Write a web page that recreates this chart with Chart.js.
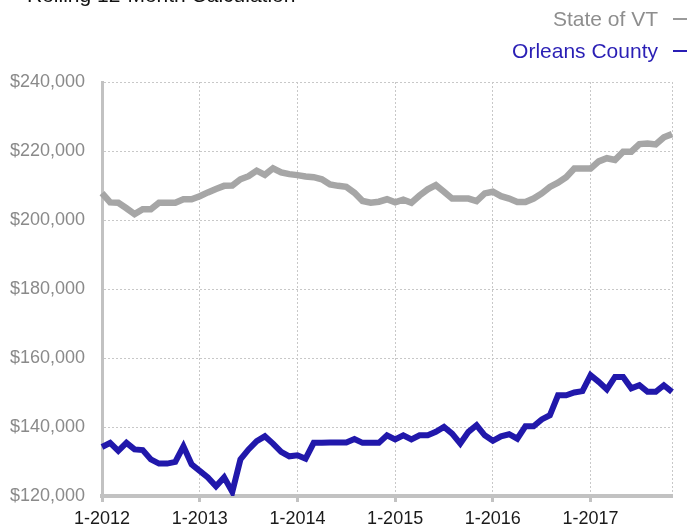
<!DOCTYPE html>
<html>
<head>
<meta charset="utf-8">
<script src="https://cdn.jsdelivr.net/npm/chart.js@4/dist/chart.umd.min.js"></script>
<style>
    html, body { margin: 0; padding: 0; background: #fff; }
    #wrap { position: relative; width: 689px; height: 527px; overflow: hidden; font-family: "Liberation Sans", Arial, sans-serif; }
    #title { position: absolute; left: 27px; top: -16px; font-size: 21px; line-height: 21px; color: #111; white-space: nowrap; }
    .leg { position: absolute; right: 2px; font-size: 21px; line-height: 21px; white-space: nowrap; }
    .leg .dash { display: inline-block; width: 14px; height: 2px; margin-left: 15px; vertical-align: middle; position: relative; top: -1px; }
    #legVT { top: 8px; color: #8e8e8e; }
    #legVT .dash { background: #9a9a9a; }
    #legOC { top: 40px; color: #2a1fb5; }
    #legOC .dash { background: #2a1fb5; }
</style>
</head>
<body>
<div id="wrap">
    <div id="title">Rolling 12-Month Calculation</div>
    <div class="leg" id="legVT">State of VT<span class="dash"></span></div>
    <div class="leg" id="legOC">Orleans County<span class="dash"></span></div>
    <canvas id="medianPriceChart" width="689" height="527"></canvas>
</div>
<script>
const startYear = 2012;
const monthCount = 71; // 1-2012 .. 11-2017

// State of VT, rolling 12-month median
const stateVT = [
    207800, 205100, 205000, 203400, 201700, 203100, 203100, 205000, 205000, 205000, 206000, 206000,
    206900, 208000, 209000, 209900, 210000, 211800, 212700, 214300, 213100, 215000, 213800, 213300,
    213000, 212600, 212400, 211800, 210300, 209900, 209600, 207900, 205500, 205000, 205300, 206000,
    205100, 205900, 205000, 207100, 208900, 210100, 208200, 206200, 206200, 206200, 205500, 207700,
    208200, 206900, 206200, 205200, 205200, 206200, 207700, 209600, 210800, 212400, 214900, 214900,
    214900, 217000, 217900, 217400, 219800, 219800, 222000, 222200, 221900, 224000, 224900
];

// Orleans County, rolling 12-month median
const orleansCounty = [
    134200, 135400, 133100, 135400, 133500, 133300, 130600, 129400, 129400, 129900, 134400, 129200,
    127300, 125400, 122800, 125400, 121200, 130600, 133500, 135900, 137300, 135200, 132800, 131500,
    131800, 130800, 135400, 135400, 135500, 135500, 135500, 136500, 135400, 135400, 135400, 137600,
    136400, 137600, 136400, 137600, 137600, 138600, 140000, 138100, 135200, 138600, 140500, 137600,
    136000, 137300, 137900, 136600, 140200, 140200, 142200, 143400, 149200, 149200, 150000, 150400,
    155000, 153100, 150900, 154500, 154500, 151200, 152100, 150200, 150200, 152100, 150200
];

const yMin = 120000;
const yMax = 240000;
const yStep = 20000;

const monthLabels = [];
for (let i = 0; i < monthCount; i++) {
    monthLabels.push(((i % 12) + 1) + '-' + (startYear + Math.floor(i / 12)));
}

const axisGrey = '#c2c2c2';
const gridGrey = '#c8c8c8';

const ctx = document.getElementById('medianPriceChart').getContext('2d');

new Chart(ctx, {
    type: 'line',
    data: {
        labels: monthLabels,
        datasets: [
            {
                label: 'State of VT',
                data: stateVT,
                borderColor: '#a6a6a6',
                borderWidth: 6.5,
                pointRadius: 0,
                tension: 0
            },
            {
                label: 'Orleans County',
                data: orleansCounty,
                borderColor: '#2118ab',
                borderWidth: 6,
                pointRadius: 0,
                tension: 0
            }
        ]
    },
    options: {
        responsive: false,
        animation: false,
        layout: {
            padding: { top: 82, right: 17, left: 0, bottom: 0 }
        },
        plugins: {
            legend: { display: false },
            tooltip: { enabled: false }
        },
        scales: {
            x: {
                ticks: {
                    autoSkip: false,
                    maxRotation: 0,
                    minRotation: 0,
                    padding: 6,
                    color: '#1a1a1a',
                    font: { family: '"Liberation Sans", Arial, sans-serif', size: 18 },
                    callback: function(value, index) {
                        return index % 12 === 0 ? this.getLabelForValue(value) : '';
                    }
                },
                grid: {
                    color: (c) => (c.index % 12 === 0 || c.index === monthCount - 1) ? gridGrey : 'transparent',
                    tickColor: (c) => c.index % 12 === 0 ? axisGrey : 'transparent',
                    tickLength: 6,
                    tickWidth: 3,
                    lineWidth: 1
                },
                border: {
                    color: axisGrey,
                    width: 4,
                    dash: [2, 2]
                },
                afterFit: (scale) => { scale.height = 31; }
            },
            y: {
                min: yMin,
                max: yMax,
                ticks: {
                    stepSize: yStep,
                    padding: 17,
                    color: '#8a8a8a',
                    font: { family: '"Liberation Sans", Arial, sans-serif', size: 18 },
                    callback: (v) => '$' + v.toLocaleString('en-US')
                },
                grid: {
                    color: gridGrey,
                    lineWidth: 1,
                    drawTicks: false
                },
                border: {
                    color: axisGrey,
                    width: 3,
                    dash: [2, 2]
                },
                afterFit: (scale) => { scale.width = 102; }
            }
        }
    }
});
</script>
</body>
</html>
